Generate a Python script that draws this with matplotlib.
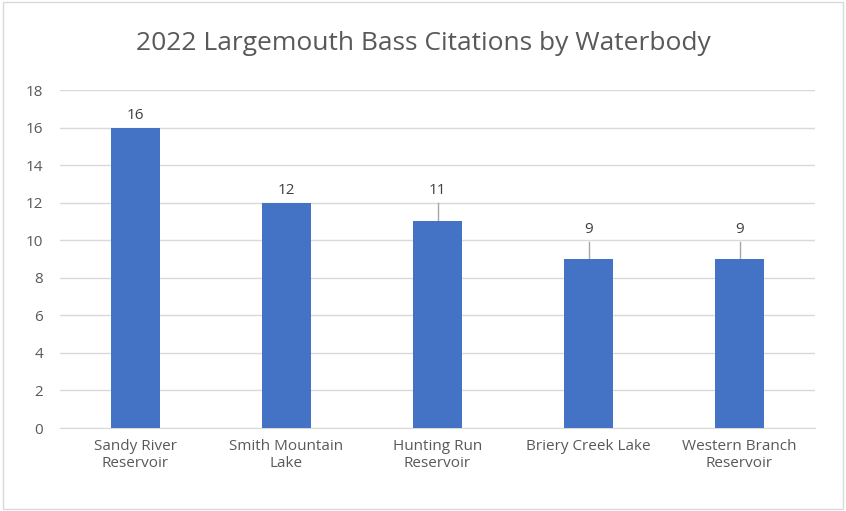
import matplotlib.pyplot as plt
from matplotlib.patches import Rectangle

plt.rcParams['font.family'] = ['Open Sans', 'DejaVu Sans']

categories = ["Sandy River\nReservoir", "Smith Mountain\nLake", "Hunting Run\nReservoir",
              "Briery Creek Lake", "Western Branch\nReservoir"]
citations = [16, 12, 11, 9, 9]
upper_err = [0, 0, 1, 0.9, 0.9]

fig = plt.figure(figsize=(8.46, 5.11), dpi=100)
ax = fig.add_axes([60 / 846, 1 - 428 / 511, 755 / 846, 338 / 511])
fig.patches.append(Rectangle((0.004, 0.004), 0.992, 0.992, transform=fig.transFigure,
                             fill=False, edgecolor='#d9d9d9', linewidth=1))

x = range(len(categories))
ax.bar(x, citations, width=0.32, color='#4472c4', zorder=3)
for i, (v, e) in enumerate(zip(citations, upper_err)):
    if e:
        ax.plot([i, i], [v, v + e], color='#a6a6a6', linewidth=1, zorder=2)
    ax.text(i, v + e + 0.25, str(v), ha='center', va='bottom', fontsize=11, color='#404040')

ax.set_ylim(0, 18)
ax.set_xlim(-0.5, len(categories) - 0.5)
ax.set_yticks(range(0, 19, 2))
ax.set_xticks(list(x))
ax.set_xticklabels(categories, fontsize=11, color='#595959')
ax.tick_params(axis='y', labelsize=11, labelcolor='#595959', length=0, pad=12)
ax.tick_params(axis='x', length=0, pad=8)
ax.grid(axis='y', color='#d9d9d9', linewidth=1, zorder=0)
for s in ['top', 'right', 'left']:
    ax.spines[s].set_visible(False)
ax.spines['bottom'].set_color('#d9d9d9')

fig.text(0.5, 1 - 43 / 511, "2022 Largemouth Bass Citations by Waterbody", ha='center',
         va='center', fontsize=19, color='#595959')

fig.savefig("out.png", dpi=100)
